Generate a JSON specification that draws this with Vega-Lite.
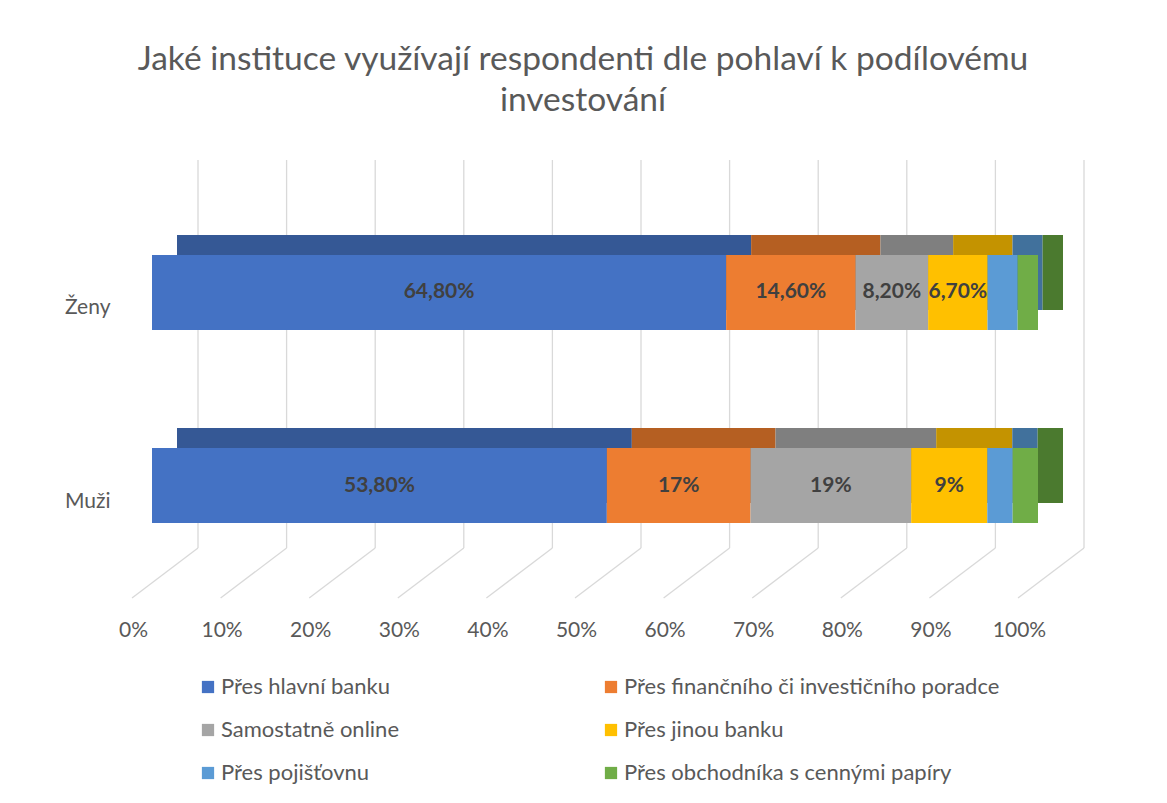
{
  "$schema": "https://vega.github.io/schema/vega-lite/v6.json",
  "width": 886,
  "height": 458,
  "autosize": {"type": "none"},
  "padding": {"left": 152, "top": 160, "right": 129, "bottom": 185},
  "background": "white",
  "title": {
    "text": ["Jaké instituce využívají respondenti dle pohlaví k podílovému", "investování"],
    "fontSize": 33.5, "font": "Lato", "fontWeight": "normal", "color": "#595959",
    "anchor": "middle", "offset": 41, "lineHeight": 41, "dx": -12
  },
  "config": {
    "view": {"stroke": null},
    "axisX": {"title": null, "tickCount": 10, "format": ".0%", "grid": false, "domain": false, "ticks": false, "labelFontSize": 21, "labelColor": "#595959", "labelFont": "Lato", "labelPadding": 1, "labelOffset": -19, "labelFlush": false, "labelOverlap": false, "labelBound": false},
    "axisY": {"title": null, "domain": false, "ticks": false, "grid": false, "labelFontSize": 21, "labelColor": "#595959", "labelFont": "Lato", "labelPadding": 42, "labelOffset": 16}
  },
  "datasets": {
    "grid": [{"t": 0}, {"t": 0.1}, {"t": 0.2}, {"t": 0.3}, {"t": 0.4}, {"t": 0.5}, {"t": 0.6}, {"t": 0.7}, {"t": 0.8}, {"t": 0.9}, {"t": 1}],
    "hodnoty": [
      {"pohlavi": "Ženy", "instituce": "Přes hlavní banku", "hodnota": 64.8, "popisek": "64,80%", "i": 1},
      {"pohlavi": "Ženy", "instituce": "Přes finančního či investičního poradce", "hodnota": 14.6, "popisek": "14,60%", "i": 2},
      {"pohlavi": "Ženy", "instituce": "Samostatně online", "hodnota": 8.2, "popisek": "8,20%", "i": 3},
      {"pohlavi": "Ženy", "instituce": "Přes jinou banku", "hodnota": 6.7, "popisek": "6,70%", "i": 4},
      {"pohlavi": "Ženy", "instituce": "Přes pojišťovnu", "hodnota": 3.4, "popisek": "", "i": 5},
      {"pohlavi": "Ženy", "instituce": "Přes obchodníka s cennými papíry", "hodnota": 2.3, "popisek": "", "i": 6},
      {"pohlavi": "Muži", "instituce": "Přes hlavní banku", "hodnota": 53.8, "popisek": "53,80%", "i": 1},
      {"pohlavi": "Muži", "instituce": "Přes finančního či investičního poradce", "hodnota": 17, "popisek": "17%", "i": 2},
      {"pohlavi": "Muži", "instituce": "Samostatně online", "hodnota": 19, "popisek": "19%", "i": 3},
      {"pohlavi": "Muži", "instituce": "Přes jinou banku", "hodnota": 9, "popisek": "9%", "i": 4},
      {"pohlavi": "Muži", "instituce": "Přes pojišťovnu", "hodnota": 3, "popisek": "", "i": 5},
      {"pohlavi": "Muži", "instituce": "Přes obchodníka s cennými papíry", "hodnota": 3, "popisek": "", "i": 6}
    ]
  },
  "layer": [
    {
      "data": {"name": "grid"},
      "mark": {"type": "rule", "color": "#d9d9d9", "strokeWidth": 1.3, "xOffset": 46},
      "encoding": {
        "x": {"field": "t", "type": "quantitative", "scale": {"domain": [0, 1], "nice": false}},
        "y": {"value": 0},
        "y2": {"value": 388}
      }
    },
    {
      "data": {"name": "grid"},
      "mark": {"type": "rule", "color": "#d9d9d9", "strokeWidth": 1.3, "xOffset": 46, "x2Offset": -20},
      "encoding": {
        "x": {"field": "t", "type": "quantitative"},
        "x2": {"field": "t"},
        "y": {"value": 388},
        "y2": {"value": 438}
      }
    },
    {
      "data": {"name": "hodnoty"},
      "mark": {"type": "bar", "size": 75, "xOffset": 25, "yOffset": -20},
      "encoding": {
        "y": {"field": "pohlavi", "type": "nominal", "sort": ["Ženy", "Muži"], "scale": {"paddingInner": 0, "paddingOuter": 0.1865}},
        "x": {"field": "hodnota", "type": "quantitative", "stack": "normalize"},
        "order": {"field": "i", "type": "quantitative"},
        "color": {
          "field": "instituce", "type": "nominal", "legend": null,
          "scale": {
            "domain": ["Přes hlavní banku", "Přes finančního či investičního poradce", "Samostatně online", "Přes jinou banku", "Přes pojišťovnu", "Přes obchodníka s cennými papíry"],
            "range": ["#355895", "#B55F22", "#7F7F7F", "#C49300", "#41719C", "#4B7A2F"]
          }
        }
      }
    },
    {
      "data": {"name": "hodnoty"},
      "mark": {"type": "bar", "size": 75},
      "encoding": {
        "y": {"field": "pohlavi", "type": "nominal", "sort": ["Ženy", "Muži"]},
        "x": {"field": "hodnota", "type": "quantitative", "stack": "normalize"},
        "order": {"field": "i", "type": "quantitative"},
        "color": {
          "field": "instituce", "type": "nominal",
          "scale": {
            "domain": ["Přes hlavní banku", "Přes finančního či investičního poradce", "Samostatně online", "Přes jinou banku", "Přes pojišťovnu", "Přes obchodníka s cennými papíry"],
            "range": ["#4472C4", "#ED7D31", "#A5A5A5", "#FFC000", "#5B9BD5", "#70AD47"]
          },
          "legend": {
            "title": null, "orient": "none", "legendX": 45, "legendY": 516, "columns": 2, "direction": "horizontal",
            "symbolType": "square", "symbolSize": 150, "symbolStrokeWidth": 0,
            "labelFontSize": 22, "labelFont": "Lato", "labelColor": "#595959", "labelOffset": 2,
            "columnPadding": 200, "rowPadding": 21, "labelLimit": 500
          }
        }
      }
    },
    {
      "data": {"name": "hodnoty"},
      "mark": {"type": "text", "font": "Lato", "fontWeight": "bold", "fontSize": 21, "color": "#404040", "baseline": "middle"},
      "encoding": {
        "y": {"field": "pohlavi", "type": "nominal", "sort": ["Ženy", "Muži"]},
        "x": {"field": "hodnota", "type": "quantitative", "stack": "normalize", "bandPosition": 0.5},
        "order": {"field": "i", "type": "quantitative"},
        "detail": {"field": "instituce", "type": "nominal"},
        "text": {"field": "popisek", "type": "nominal"}
      }
    }
  ],
  "resolve": {"scale": {"color": "independent"}}
}
